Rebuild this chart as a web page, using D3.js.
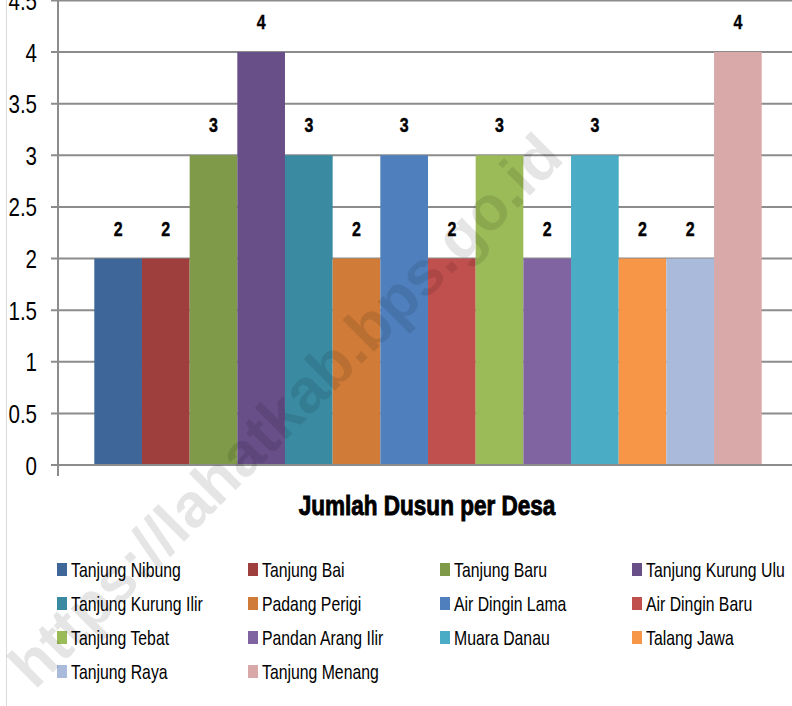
<!DOCTYPE html>
<html>
<head>
<meta charset="utf-8">
<script src="https://cdn.jsdelivr.net/npm/d3@7"></script>
<style>
  body { margin: 0; background: #fff; }
  text { font-family: "Liberation Sans", Arial, sans-serif; }
</style>
</head>
<body>
<div id="chart"></div>
<script>
// data
const desa = ["Tanjung Nibung", "Tanjung Bai", "Tanjung Baru", "Tanjung Kurung Ulu",
  "Tanjung Kurung Ilir", "Padang Perigi", "Air Dingin Lama", "Air Dingin Baru",
  "Tanjung Tebat", "Pandan Arang Ilir", "Muara Danau", "Talang Jawa",
  "Tanjung Raya", "Tanjung Menang"];
const jumlahDusun = [2, 2, 3, 4, 3, 2, 3, 2, 3, 2, 3, 2, 2, 4];
const yTicks = [0, 0.5, 1, 1.5, 2, 2.5, 3, 3.5, 4, 4.5];
const colors = ["#3e6699", "#9e3f3e", "#7f9a48", "#684f88", "#3a8ba2", "#d07c38",
  "#4f80bd", "#c0504d", "#9bbb59", "#8064a2", "#4bacc6", "#f79646",
  "#a9badb", "#d9a9a9"];
const title = "Jumlah Dusun per Desa";

const width = 792, height = 706;

const svg = d3.select("#chart").append("svg")
    .attr("width", width)
    .attr("height", height);

// scales
const x = d3.scaleBand().domain(desa).range([94.3, 761.7]).padding(0);
const y = d3.scaleLinear().domain([0, 4.5]).range([465, 0.4]);
const color = d3.scaleOrdinal().domain(desa).range(colors);

// squeeze text horizontally, no narrow font installed
function place(px, py, sx) {
  return "translate(" + px + "," + py + ") scale(" + sx + ",1)";
}

// chart border (left edge)
svg.append("line")
    .attr("x1", 6.5).attr("x2", 6.5)
    .attr("y1", 0).attr("y2", height)
    .attr("stroke", "#d9d9d9").attr("stroke-width", 1);

// gridlines
svg.append("g")
    .selectAll("line")
    .data(yTicks.filter(d => d > 0))
    .enter()
    .append("line")
    .attr("x1", 51).attr("x2", width)
    .attr("y1", d => y(d)).attr("y2", d => y(d))
    .attr("stroke", "#8c8c8c").attr("stroke-width", 2);

// bars
svg.append("g")
    .selectAll("rect")
    .data(desa)
    .enter()
    .append("rect")
    .attr("x", d => x(d))
    .attr("y", (d, i) => y(jumlahDusun[i]))
    .attr("width", x.bandwidth())
    .attr("height", (d, i) => y(0) - y(jumlahDusun[i]))
    .attr("fill", d => color(d));

// axes
svg.append("line")
    .attr("x1", 58).attr("x2", 58)
    .attr("y1", 0).attr("y2", 476)
    .attr("stroke", "#8c8c8c").attr("stroke-width", 2);
svg.append("line")
    .attr("x1", 51).attr("x2", width)
    .attr("y1", y(0)).attr("y2", y(0))
    .attr("stroke", "#8c8c8c").attr("stroke-width", 2);

// y tick labels
svg.append("g")
    .selectAll("text")
    .data(yTicks)
    .enter()
    .append("text")
    .attr("transform", d => place(37, y(d) + 9.5, 0.79))
    .attr("text-anchor", "end")
    .style("font-size", "26px")
    .attr("fill", "#000")
    .text(d => d);

// value labels
svg.append("g")
    .selectAll("text")
    .data(desa)
    .enter()
    .append("text")
    .attr("transform", (d, i) => place(x(d) + x.bandwidth() / 2, y(jumlahDusun[i]) - 23, 0.78))
    .attr("text-anchor", "middle")
    .style("font-size", "20.5px")
    .style("font-weight", "bold")
    .attr("stroke", "#000").attr("stroke-width", 0.4)
    .text((d, i) => jumlahDusun[i]);

// title
svg.append("text")
    .attr("transform", place(427, 515, 0.82))
    .attr("text-anchor", "middle")
    .style("font-size", "27.5px")
    .style("font-weight", "bold")
    .attr("stroke", "#000").attr("stroke-width", 0.9)
    .text(title);

// legend
const legendCols = [57, 248, 440, 632];
const legend = svg.append("g")
    .selectAll("g")
    .data(desa)
    .enter()
    .append("g")
    .attr("transform", (d, i) => "translate(" + legendCols[i % 4] + "," + (577 + Math.floor(i / 4) * 34) + ")");

legend.append("rect")
    .attr("x", 0).attr("y", -14)
    .attr("width", 10).attr("height", 13)
    .attr("fill", d => color(d));

legend.append("text")
    .attr("transform", place(14, 0, 0.79))
    .style("font-size", "20px")
    .text(d => d);

// watermark
svg.append("text")
    .attr("transform", "translate(285,410) rotate(-45)")
    .attr("text-anchor", "middle")
    .attr("dy", "0.35em")
    .style("font-size", "62px")
    .style("font-weight", "bold")
    .attr("fill", "#000")
    .attr("fill-opacity", 0.1)
    .text("https://lahatkab.bps.go.id");
</script>
</body>
</html>
